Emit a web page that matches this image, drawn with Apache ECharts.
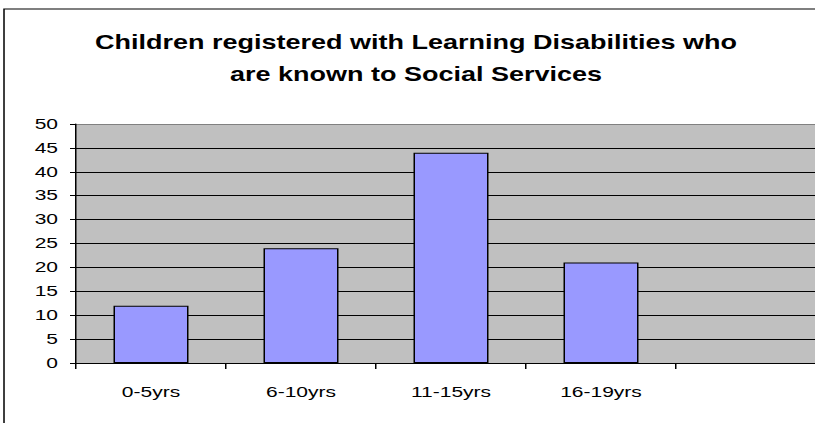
<!DOCTYPE html>
<html>
<head>
<meta charset="utf-8">
<script src="https://cdn.jsdelivr.net/npm/echarts@6/dist/echarts.min.js"></script>
<style>
  html, body { margin: 0; padding: 0; background: #fff; overflow: hidden; }
  /* chart is laid out narrow and widened horizontally; the right part runs past the frame */
  #wrap { width: 815px; height: 423px; overflow: hidden; }
  #chart { width: 554.667px; height: 423px; transform: scaleX(1.5); transform-origin: 0 0; }
</style>
</head>
<body>
<div id="wrap"><div id="chart"></div></div>
<script>
const titleLines = ['Children registered with Learning Disabilities who', 'are known to Social Services'];
const categories = ['0-5yrs', '6-10yrs', '11-15yrs', '16-19yrs', ''];
const counts = [12, 24, 44, 21, null];
const yMin = 0, yMax = 50, yStep = 5;

const FONT = '"Liberation Sans", Arial, sans-serif';
const gridLineColors = [];
for (let v = yMin; v <= yMax; v += yStep) gridLineColors.push(v === yMax ? '#808080' : '#000000');

// title lines, centred over the chart
const titleCenterX = 277.333;
const titleLineY = [42, 74];
const titleGraphics = titleLines.map((line, i) => ({
  type: 'text',
  x: titleCenterX,
  y: titleLineY[i],
  scaleX: 0.9,
  style: {
    text: line,
    font: 'bold 20px ' + FONT,
    fill: '#000',
    textAlign: 'center',
    textVerticalAlign: 'middle'
  },
  z: 100
}));

const chart = echarts.init(document.getElementById('chart'), null, { renderer: 'svg' });
chart.setOption({
  animation: false,
  backgroundColor: '#ffffff',
  graphic: [{
    type: 'rect',
    shape: { x: 2.67, y: 9, width: 700, height: 600 },
    style: { fill: 'none', stroke: '#000', lineWidth: 1 },
    z: 100
  }].concat(titleGraphics),
  grid: {
    left: 50.667, top: 124, width: 500, height: 239,
    show: true, backgroundColor: '#c0c0c0', borderWidth: 0
  },
  xAxis: {
    type: 'category',
    data: categories,
    boundaryGap: true,
    axisLine: { lineStyle: { color: '#000', width: 1 } },
    axisTick: { show: true, length: 6, interval: 0, lineStyle: { color: '#000' } },
    axisLabel: { fontFamily: FONT, fontSize: 14, color: '#000', margin: 22, interval: 0 }
  },
  yAxis: {
    type: 'value',
    min: yMin, max: yMax, interval: yStep,
    axisLine: { show: true, lineStyle: { color: '#000', width: 1 } },
    axisTick: { show: true, length: 4, lineStyle: { color: '#000' } },
    axisLabel: { fontFamily: FONT, fontSize: 14, color: '#000', margin: 12 },
    splitLine: { show: true, lineStyle: { color: gridLineColors, width: 1 } }
  },
  series: [{
    type: 'bar',
    data: counts,
    barWidth: '50%',
    itemStyle: { color: '#9999ff', borderColor: '#000', borderWidth: 1 },
    emphasis: { disabled: true }
  }]
});
</script>
</body>
</html>
